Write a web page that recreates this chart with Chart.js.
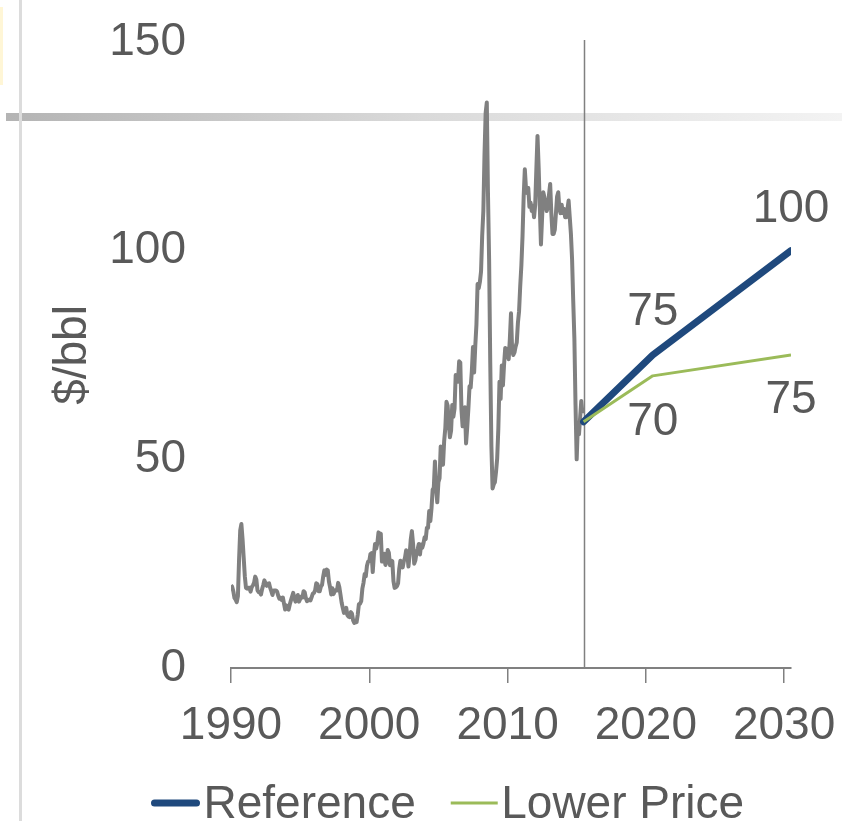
<!DOCTYPE html>
<html><head><meta charset="utf-8">
<script src="https://cdn.jsdelivr.net/npm/chart.js@4.4.1/dist/chart.umd.min.js"></script>
<style>html,body{margin:0;padding:0;background:#fff;overflow:hidden}</style>
</head><body>
<canvas id="c" width="842" height="821"></canvas>
<script>
// ---- data ----
const historyStartYear = 1990;
const historyMonthly = [
  19.8, 19.5, 18.4, 16.8, 16.4, 15.8, 17.2, 26.0, 33.0, 34.5, 31.0, 26.5,
  22.0, 19.2, 19.0, 19.2, 19.2, 18.3, 19.4, 19.8, 20.4, 21.9, 21.2, 18.6,
  18.2, 18.1, 17.6, 18.9, 19.9, 21.0, 20.2, 19.7, 20.2, 20.3, 19.2, 18.4,
  17.5, 18.6, 18.6, 18.6, 18.3, 17.3, 16.6, 16.8, 16.3, 16.9, 15.4, 14.0,
  15.0, 14.2, 14.0, 15.2, 16.2, 17.1, 18.0, 16.8, 15.9, 16.4, 17.5, 15.9,
  16.5, 17.1, 16.9, 18.4, 18.1, 16.7, 16.0, 16.2, 16.4, 16.2, 17.0, 17.8,
  18.0, 18.6, 20.3, 20.1, 18.4, 18.4, 19.5, 19.9, 21.9, 23.4, 22.3, 23.6,
  23.4, 20.7, 19.3, 17.6, 19.1, 17.7, 18.4, 18.7, 18.6, 20.4, 19.4, 17.6,
  15.7, 14.4, 13.2, 13.7, 14.4, 12.7, 12.3, 12.2, 13.4, 13.0, 11.4, 10.8,
  11.3, 11.0, 12.8, 15.3, 15.4, 16.0, 19.0, 20.4, 22.5, 22.0, 24.5, 25.5,
  25.6, 27.3, 27.5, 23.0, 27.1, 29.7, 28.6, 29.9, 32.5, 31.0, 32.2, 25.5,
  25.5, 27.4, 24.7, 25.4, 28.3, 27.6, 24.6, 25.7, 25.6, 20.8, 19.2, 19.3,
  19.6, 20.3, 23.8, 25.7, 25.1, 24.1, 25.6, 26.4, 28.2, 27.5, 24.3, 27.1,
  30.8, 32.8, 29.8, 25.0, 25.8, 27.6, 28.5, 29.7, 27.2, 29.6, 28.8, 29.8,
  31.3, 30.9, 33.6, 33.6, 37.6, 35.2, 38.2, 42.7, 43.2, 49.5, 43.1, 39.7,
  44.5, 45.5, 53.1, 51.9, 48.7, 54.4, 57.5, 63.8, 62.9, 58.5, 55.3, 56.9,
  63.0, 60.2, 62.1, 70.2, 69.8, 68.6, 73.5, 73.2, 62.0, 57.9, 58.8, 62.5,
  53.8, 57.6, 62.1, 67.5, 67.2, 71.1, 76.9, 70.8, 77.2, 82.3, 92.0, 91.0,
  92.5, 95.0, 103.6, 109.5, 123.0, 133.0, 135.5, 114.0, 98.0, 73.0, 53.0, 43.0,
  44.0, 44.5, 47.0, 50.2, 57.3, 68.6, 64.5, 72.5, 67.7, 72.8, 76.7, 74.5,
  76.5, 74.0, 78.8, 85.0, 76.0, 75.0, 75.6, 77.0, 78.0, 82.7, 85.5, 91.5,
  96.5, 103.5, 113.0, 119.5, 115.0, 113.8, 115.0, 110.5, 111.5, 109.5, 110.8, 108.0,
  111.0, 119.5, 127.5, 120.0, 110.5, 101.5, 108.0, 114.0, 112.8, 111.0, 109.5, 110.5,
  113.5, 116.0, 109.0, 104.0, 104.0, 105.0, 109.0, 113.0, 114.0, 110.0, 109.0, 111.0,
  109.0, 110.0, 108.0, 108.0, 110.0, 112.0, 108.0, 104.0, 98.0, 88.0, 79.0, 63.0,
  50.0, 58.0, 56.0, 60.0, 64.0, 61.0
];
const forecastYears = [2015.5, 2020.5, 2030.5];
const referenceValues = [59, 75, 100];
const lowerPriceValues = [59, 70, 75];
const seriesNames = ['Reference', 'Lower Price'];
const xTickYears = [1990, 2000, 2010, 2020, 2030];
const yTickValues = [0, 50, 100, 150];
const dividerYear = 2015.5;
const yAxisTitle = '$/bbl';

// ---- style ----
const FONT = 'Liberation Sans, Arial, sans-serif';
const TXT = '#595959';
const NAVY = '#1F497D';
const GREEN = '#9BBB59';
const GRAY = '#808080';

const decorations = {
  id: 'decorations',
  beforeDraw(chart) {
    const ctx = chart.ctx;
    ctx.save();
    ctx.fillStyle = '#fff6d6';
    ctx.fillRect(0, 7, 3, 78);
    const g = ctx.createLinearGradient(6, 0, 842, 0);
    g.addColorStop(0, '#b4b4b4');
    g.addColorStop(0.5, '#dadada');
    g.addColorStop(1, '#f3f3f3');
    ctx.fillStyle = g;
    ctx.fillRect(6, 113, 836, 8);
    ctx.fillStyle = '#dcdcdc';
    ctx.fillRect(19, 0, 3, chart.height);
    ctx.restore();
  }
};

const divider = {
  id: 'divider',
  beforeDatasetsDraw(chart) {
    const {ctx, chartArea, scales} = chart;
    const x = Math.round(scales.x.getPixelForValue(dividerYear)) + 0.5;
    ctx.save();
    ctx.strokeStyle = GRAY;
    ctx.lineWidth = 1.5;
    ctx.beginPath();
    ctx.moveTo(x, chartArea.top - 2);
    ctx.lineTo(x, chartArea.bottom);
    ctx.stroke();
    ctx.restore();
  }
};

const valueLabels = {
  id: 'valueLabels',
  afterDatasetsDraw(chart) {
    const ctx = chart.ctx;
    ctx.save();
    ctx.font = '46px ' + FONT;
    ctx.fillStyle = TXT;
    ctx.textAlign = 'center';
    ctx.textBaseline = 'middle';
    chart.data.datasets.forEach((ds, di) => {
      if (!ds.valueLabels) return;
      const meta = chart.getDatasetMeta(di);
      ds.valueLabels.forEach(l => {
        const pt = meta.data[l.index];
        const v = ds.data[l.index].y;
        ctx.fillText(String(v), pt.x + (l.dx || 0), pt.y + l.dy);
      });
    });
    ctx.restore();
  }
};

const lineLegend = {
  id: 'lineLegend',
  afterDraw(chart) {
    const ctx = chart.ctx;
    ctx.save();
    ctx.font = '46px ' + FONT;
    ctx.fillStyle = TXT;
    ctx.textBaseline = 'alphabetic';
    let x = 151;
    const lineY = 803, textY = 818;
    chart.data.datasets.filter(d => d.inLegend).forEach(ds => {
      const w = ds.borderWidth;
      ctx.strokeStyle = ds.borderColor;
      ctx.lineWidth = w;
      ctx.lineCap = ds.borderCapStyle === 'round' ? 'round' : 'butt';
      const sw = ds.borderCapStyle === 'round' ? 49 : 47;
      const inset = ds.borderCapStyle === 'round' ? w / 2 : 0;
      ctx.beginPath();
      ctx.moveTo(x + inset, lineY);
      ctx.lineTo(x + sw - inset, lineY);
      ctx.stroke();
      const tx = x + sw + 3.5;
      ctx.fillText(ds.label, tx, textY);
      x = tx + ctx.measureText(ds.label).width + 35;
    });
    ctx.restore();
  }
};

const tickFont = {family: FONT, size: 46};

new Chart(document.getElementById('c'), {
  type: 'line',
  data: {
    datasets: [
      {
        label: 'History',
        data: historyMonthly.map((v, i) => ({x: historyStartYear + i / 12, y: v})),
        borderColor: GRAY, borderWidth: 4, pointRadius: 0, tension: 0,
        borderJoinStyle: 'round', order: 3
      },
      {
        label: seriesNames[0],
        data: forecastYears.map((x, i) => ({x, y: referenceValues[i]})),
        borderColor: NAVY, borderWidth: 7, pointRadius: 0, tension: 0,
        borderCapStyle: 'round', borderJoinStyle: 'round', order: 2, inLegend: true,
        valueLabels: [{index: 1, dy: -43}, {index: 2, dy: -41}]
      },
      {
        label: seriesNames[1],
        data: forecastYears.map((x, i) => ({x, y: lowerPriceValues[i]})),
        borderColor: GREEN, borderWidth: 3, pointRadius: 0, tension: 0,
        borderJoinStyle: 'round', order: 1, inLegend: true,
        valueLabels: [{index: 1, dy: 46}, {index: 2, dy: 45}]
      }
    ]
  },
  options: {
    responsive: false,
    animation: false,
    devicePixelRatio: 1,
    layout: {padding: {left: 42, right: 51, top: 42, bottom: 53}},
    plugins: {legend: {display: false}, tooltip: {enabled: false}},
    scales: {
      x: {
        type: 'linear', min: 1990, max: 2030.5,
        afterBuildTicks: s => { s.ticks = xTickYears.map(v => ({value: v})); },
        afterFit: s => { s.height = 100; s.paddingLeft = 0; s.paddingRight = 0; },
        ticks: {font: tickFont, color: TXT, padding: 16, maxRotation: 0, autoSkip: false,
                callback: v => String(v)},
        grid: {display: true, drawOnChartArea: false, drawTicks: true, tickLength: 15,
               color: GRAY, lineWidth: 1.5},
        border: {display: true, color: GRAY, width: 2}
      },
      y: {
        type: 'linear', min: 0, max: 150,
        afterBuildTicks: s => { s.ticks = yTickValues.map(v => ({value: v})); },
        afterFit: s => { s.width = 189; s.paddingTop = 0; s.paddingBottom = 0; },
        ticks: {font: tickFont, color: TXT, padding: 45, callback: v => String(v)},
        grid: {display: false, drawTicks: false},
        border: {display: false},
        title: {display: true, text: yAxisTitle, font: tickFont, color: TXT,
                padding: {top: 4, bottom: 4}}
      }
    }
  },
  plugins: [decorations, divider, valueLabels, lineLegend]
});
</script>
</body></html>
